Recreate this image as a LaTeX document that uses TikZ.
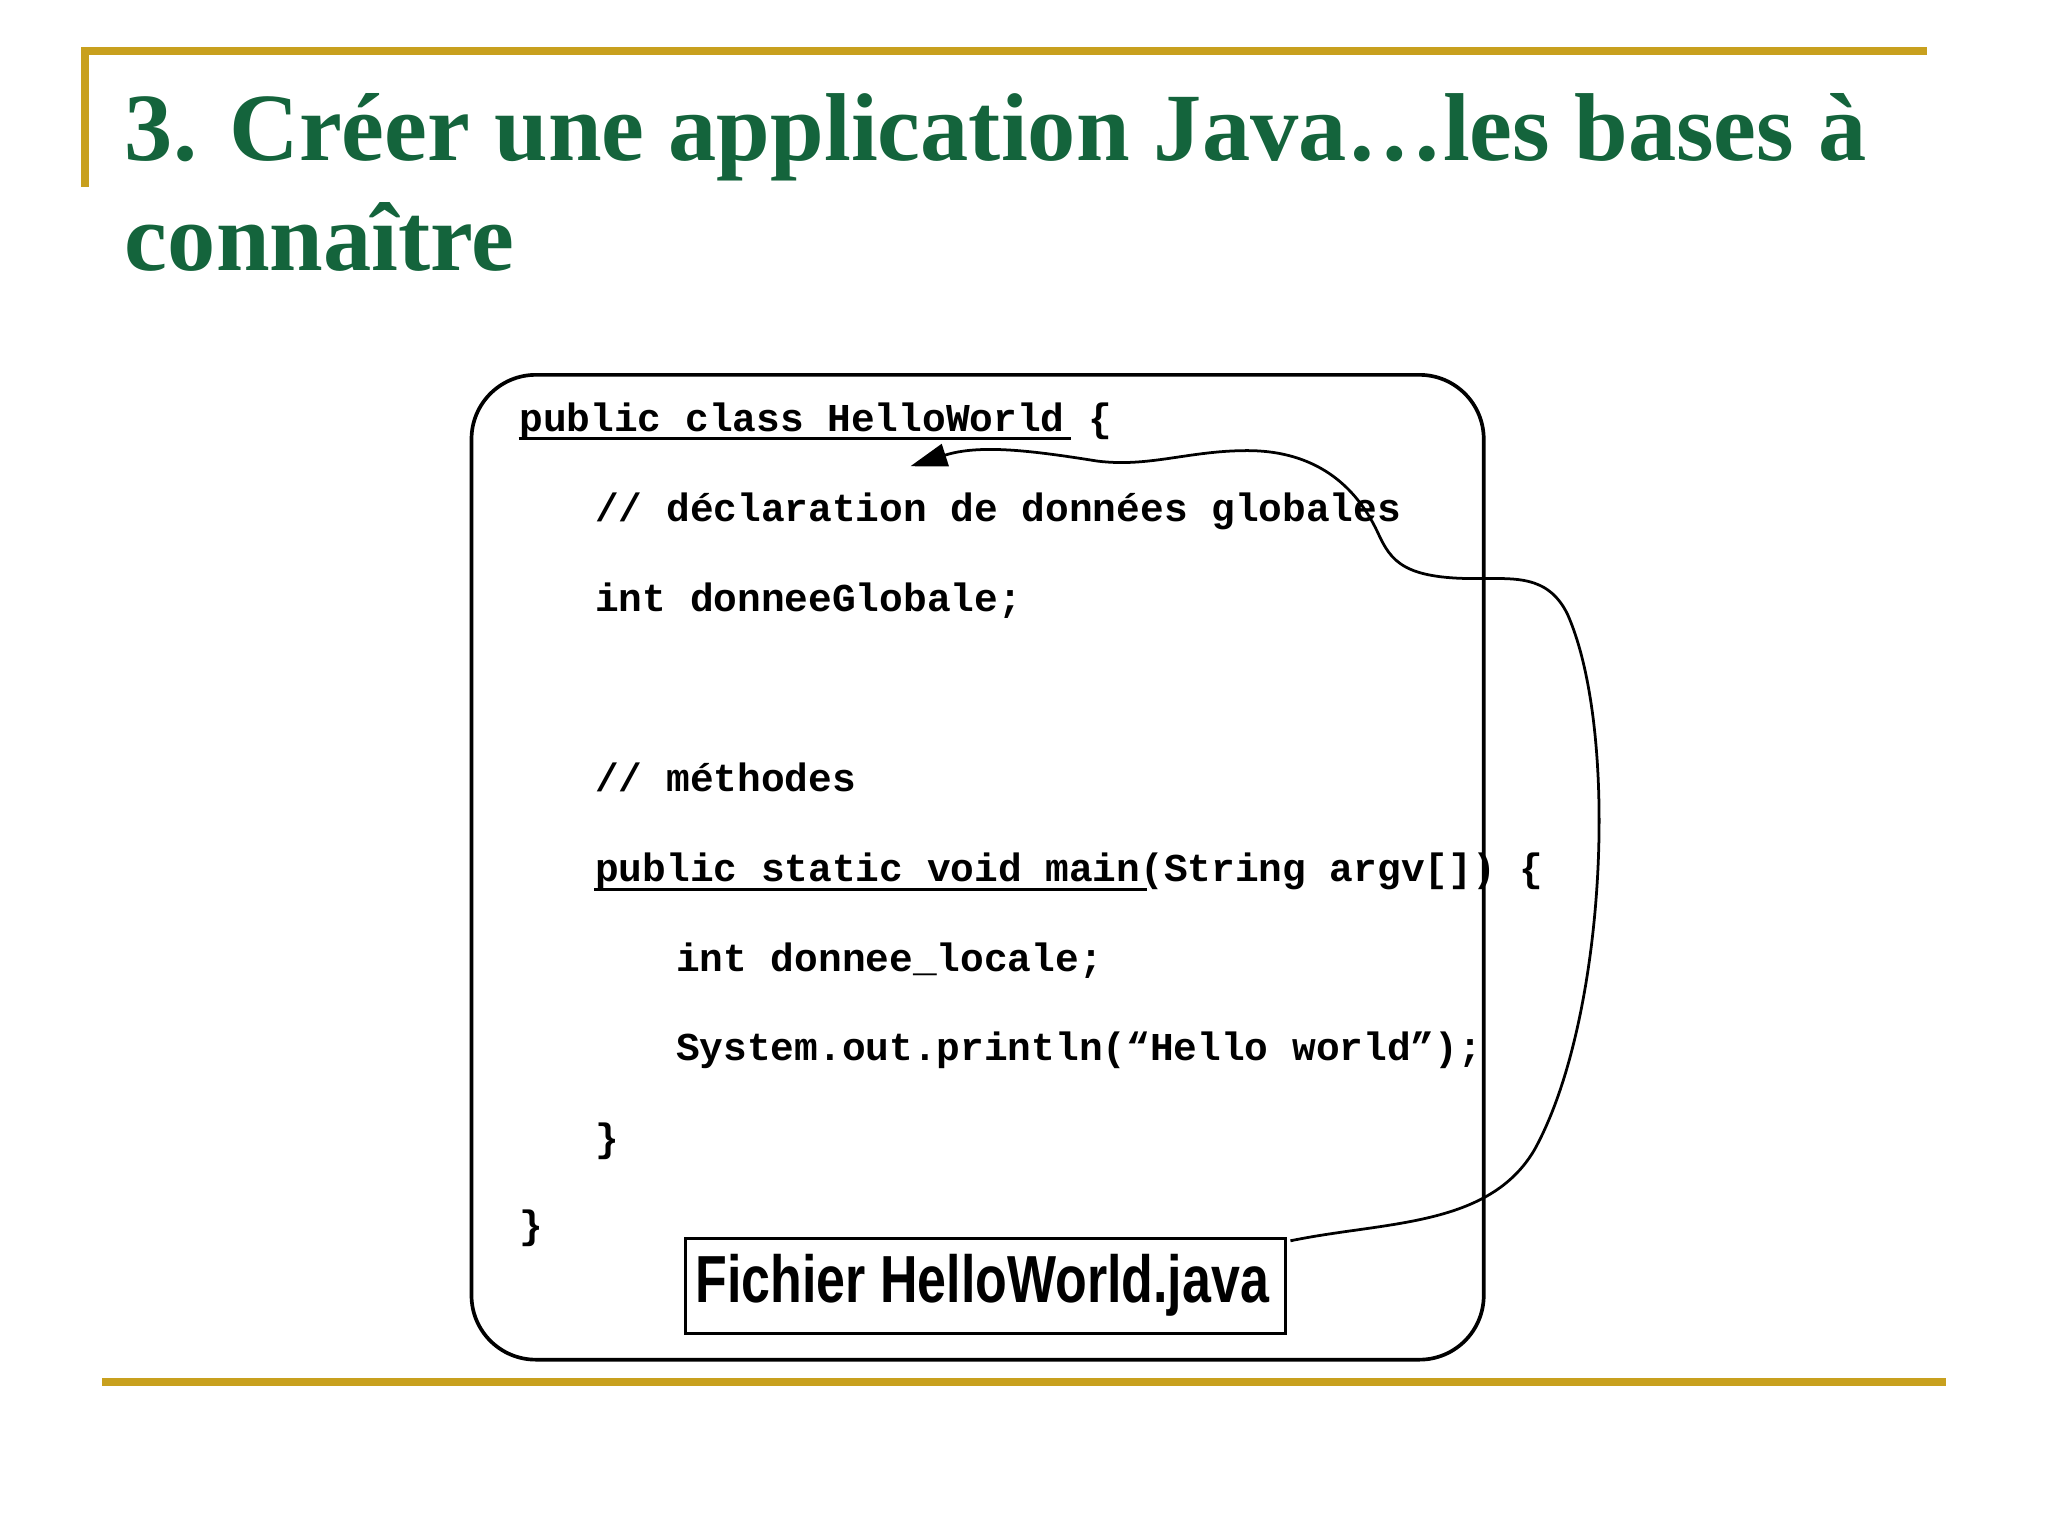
\documentclass[tikz,border=0pt]{standalone}
\usepackage{fontspec}
\setmainfont{Liberation Serif}
\newfontfamily\codefont{Liberation Mono}
\newfontfamily\labfont{Liberation Sans}
\usetikzlibrary{arrows.meta}
\definecolor{titlegreen}{RGB}{20,100,60}
\definecolor{gold}{RGB}{200,160,30}
\tikzset{code/.style={anchor=base west,inner sep=0pt,font=\codefont\bfseries\fontsize{8.6pt}{10pt}\selectfont},
 titletext/.style={anchor=base west,inner sep=0pt,text=titlegreen,font=\bfseries\fontsize{21pt}{24pt}\selectfont},
 rule/.style={gold,line width=1.6pt}}
\begin{document}
\begin{tikzpicture}[x=0.01cm,y=-0.01cm]
\useasboundingbox (0,0) rectangle (1568,1176);
\draw[rule] (65,143) -- (65,39) -- (1475,39);
\draw[rule] (78,1058) -- (1490,1058);
\node[titletext] (title1) at (95,123) {3. Créer une application Java…les bases à};
\node[titletext] (title2) at (95,207) {connaître};
\draw[line width=0.8pt,rounded corners=14pt] (361,287) rectangle (1136,1041);
\node[code] (l1) at (397,330) {public class HelloWorld \{};
\node[code] (l2) at (455,399) {// déclaration de données globales};
\node[code] (l3) at (455,468) {int donneeGlobale;};
\node[code] (l4) at (455,606) {// méthodes};
\node[code] (l5) at (455,675) {public static void main(String argv[]) \{};
\node[code] (l6) at (517,744) {int donnee\_locale;};
\node[code] (l7) at (517,812) {System.out.println(“Hello world”);};
\node[code] (l8) at (455,882) {\}};
\node[code] (l9) at (397,948) {\}};
\draw[line width=0.6pt] (397,336) -- (820,336);
\draw[line width=0.6pt] (455,681) -- (878,681);
\draw[line width=0.6pt] (525,948) rectangle (984,1021);
\node[inner sep=0pt,font=\labfont\bfseries\fontsize{14.5pt}{18pt}\selectfont,xscale=0.78] (flab) at (752,984) {Fichier HelloWorld.java};
\coordinate (s) at (988,950);
\coordinate (t) at (697,357);
\draw[line width=0.6pt,-{Triangle[length=8pt,width=5pt]}] (s) .. controls (1060,935) and (1140,940) .. (1175,880)
 .. controls (1230,780) and (1240,560) .. (1200,470)
 .. controls (1185,440) and (1160,443) .. (1130,443)
 .. controls (1075,443) and (1065,430) .. (1055,408)
 .. controls (1035,365) and (1000,345) .. (955,345)
 .. controls (910,345) and (880,358) .. (840,353)
 .. controls (790,345) and (750,340) .. (t);
\end{tikzpicture}
\end{document}
